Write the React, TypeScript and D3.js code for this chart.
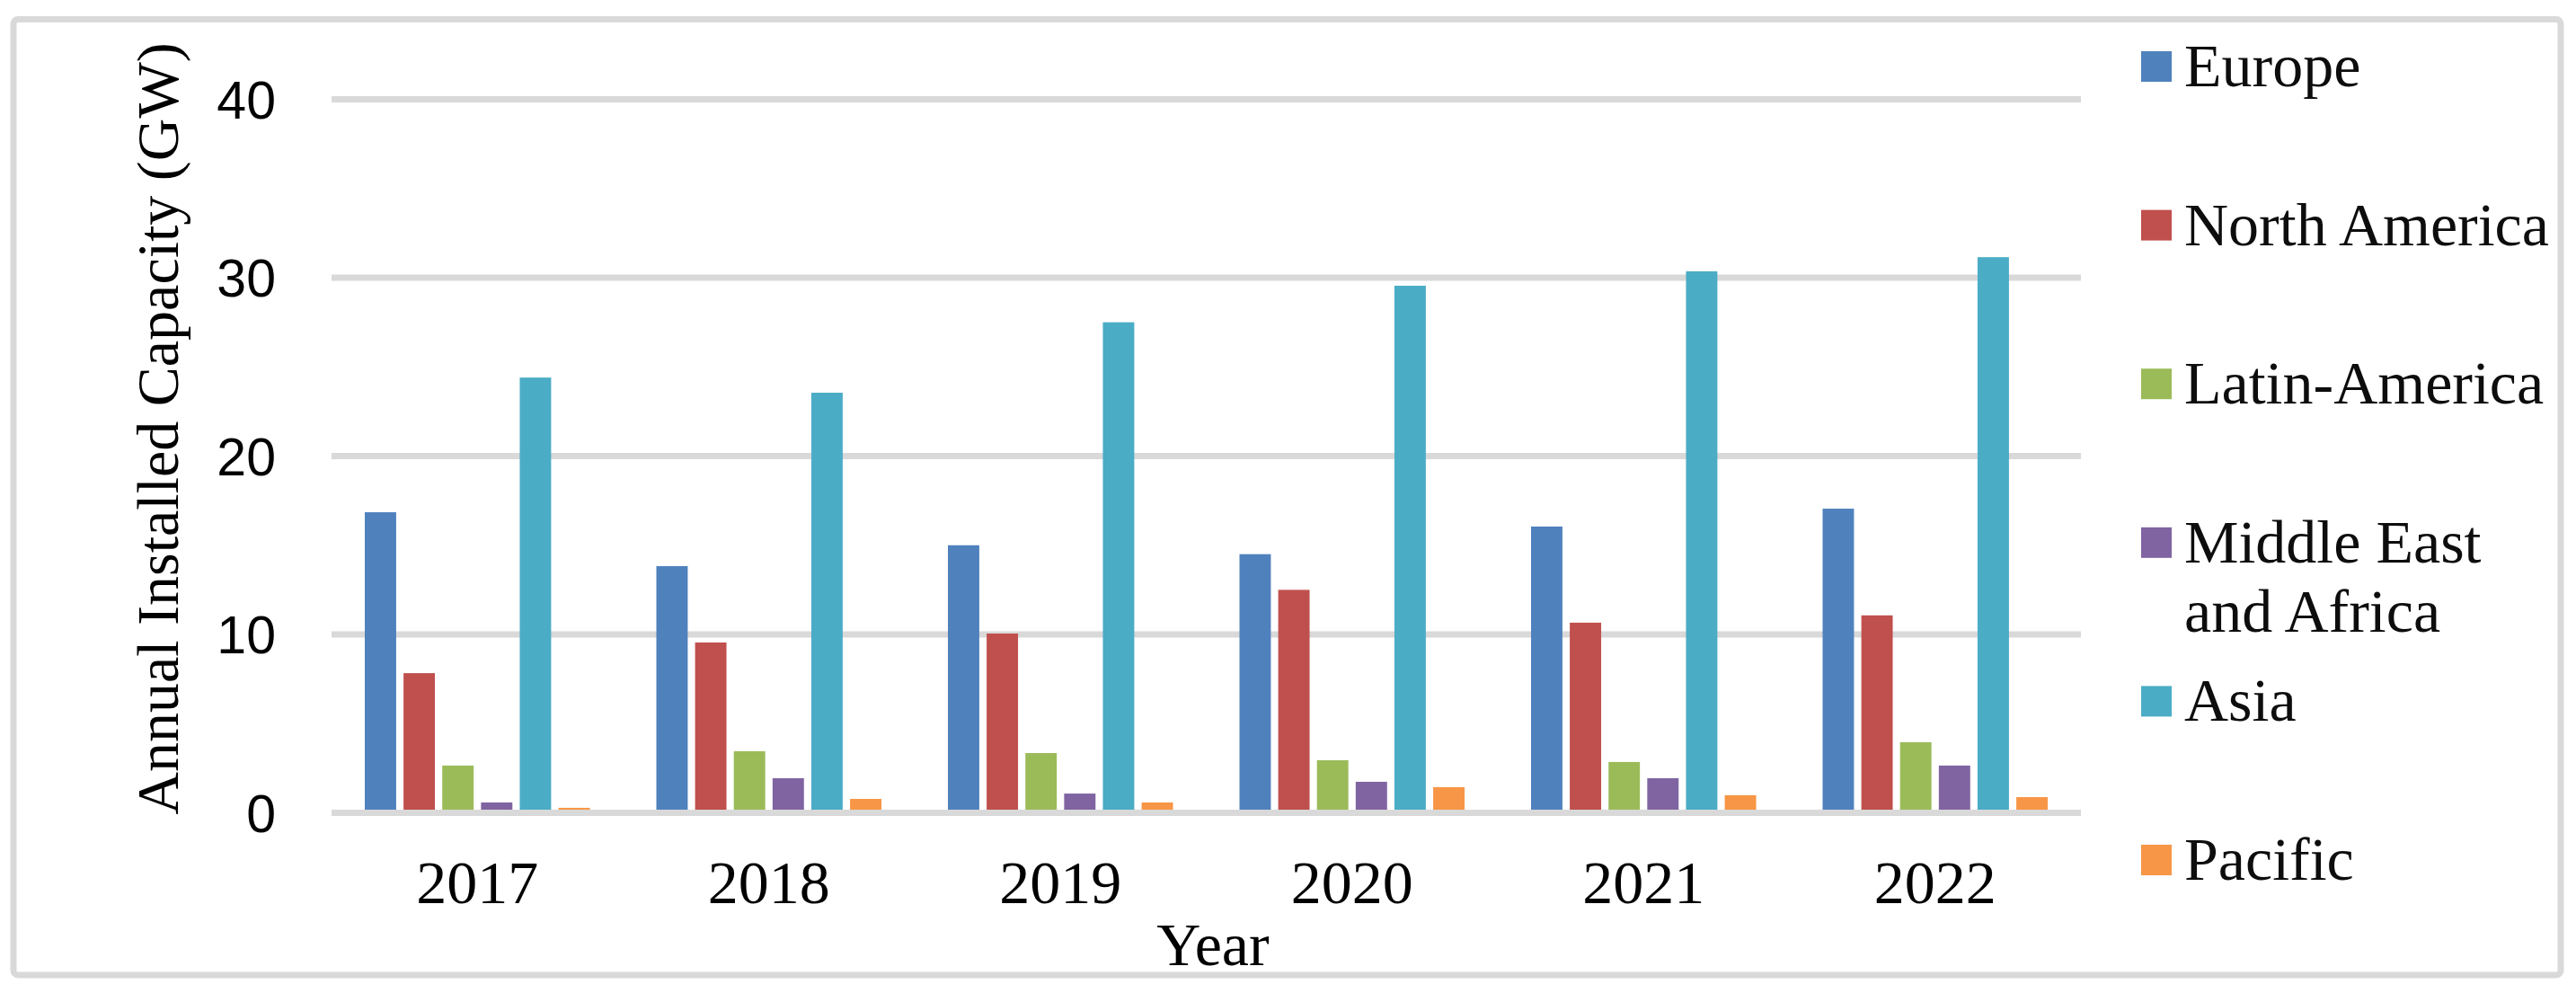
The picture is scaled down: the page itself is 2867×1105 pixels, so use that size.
import React from "react";
import * as d3 from "d3";

const years = ["2017", "2018", "2019", "2020", "2021", "2022"];
const seriesNames = ["Europe", "North America", "Latin-America", "Middle East and Africa", "Asia", "Pacific"];
const europe = [16.85, 13.83, 15.0, 14.5, 16.05, 17.05];
const northAmerica = [7.83, 9.55, 10.05, 12.5, 10.66, 11.07];
const latinAmerica = [2.65, 3.45, 3.35, 2.95, 2.85, 3.96];
const middleEastAfrica = [0.58, 1.94, 1.08, 1.74, 1.94, 2.65];
const asia = [24.4, 23.55, 27.5, 29.55, 30.36, 31.15];
const pacific = [0.28, 0.78, 0.58, 1.44, 0.99, 0.88];
const yTicks = [0, 10, 20, 30, 40];
const colors = ["#4F81BD", "#C0504D", "#9BBB59", "#8064A2", "#4BACC6", "#F79646"];
const legendLines = [["Europe"], ["North America"], ["Latin-America"], ["Middle East", "and Africa"], ["Asia"], ["Pacific"]];

const seriesValues = [europe, northAmerica, latinAmerica, middleEastAfrica, asia, pacific];

export default function App() {
  const W = 2867;
  const H = 1105;
  const plotLeft = 369;
  const plotRight = 2316;
  const y0 = 904.5;
  const y40 = 110.5;

  const x = d3.scaleBand<string>().domain(years).range([plotLeft, plotRight]).paddingInner(0).paddingOuter(0);
  const bw = x.bandwidth();
  const x1 = d3
    .scaleBand<string>()
    .domain(seriesNames)
    .range([bw * 0.114, bw * 0.886])
    .paddingInner(0.19)
    .paddingOuter(0);
  const y = d3.scaleLinear().domain([0, 40]).range([y0, y40]);

  const serif = "'Liberation Serif', 'Times New Roman', serif";
  const sans = "'Liberation Sans', Arial, sans-serif";

  const legendX = 2383;
  const legendY0 = 74;
  const legendStep = 176.6;
  const sw = 34;

  return (
    <svg
      width={W}
      height={H}
      viewBox={`0 0 ${W} ${H}`}
      style={{ position: "absolute", left: 0, top: 0, background: "#fff" }}
    >
      <rect x={0} y={0} width={W} height={H} fill="#fff" />
      <rect x={15} y={21.5} width={2835} height={1063.5} rx={5} fill="#fff" stroke="#D9D9D9" strokeWidth={7} />

      {yTicks
        .filter((t) => t !== 0)
        .map((t) => (
          <line key={"g" + t} x1={plotLeft} x2={plotRight} y1={y(t)} y2={y(t)} stroke="#D9D9D9" strokeWidth={7} />
        ))}

      {years.map((yr, gi) => (
        <g key={yr} transform={`translate(${x(yr)},0)`}>
          {seriesNames.map((s, si) => {
            const v = seriesValues[si][gi];
            return (
              <rect
                key={s}
                x={x1(s)}
                y={y(v)}
                width={x1.bandwidth()}
                height={y(0) - y(v)}
                fill={colors[si]}
              />
            );
          })}
        </g>
      ))}

      <line x1={plotLeft} x2={plotRight} y1={y(0)} y2={y(0)} stroke="#D9D9D9" strokeWidth={7} />

      {yTicks.map((t) => (
        <text
          key={"t" + t}
          x={307}
          y={y(t)}
          dy="0.36em"
          textAnchor="end"
          fontFamily={sans}
          fontSize={59}
          fill="#000"
        >
          {t}
        </text>
      ))}

      {years.map((yr) => (
        <text
          key={"x" + yr}
          x={(x(yr) as number) + bw / 2}
          y={1005}
          textAnchor="middle"
          fontFamily={serif}
          fontSize={68}
          fill="#000"
        >
          {yr}
        </text>
      ))}

      <text x={1350} y={1074} textAnchor="middle" fontFamily={serif} fontSize={68} fill="#000">
        Year
      </text>

      <text
        transform={`translate(198,477) rotate(-90)`}
        textAnchor="middle"
        fontFamily={serif}
        fontSize={66}
        fill="#000"
      >
        Annual Installed Capacity (GW)
      </text>

      {seriesNames.map((s, i) => {
        const cy = legendY0 + i * legendStep;
        return (
          <g key={"l" + s}>
            <rect x={legendX} y={cy - sw / 2} width={sw} height={sw} fill={colors[i]} />
            {legendLines[i].map((line, li) => (
              <text
                key={li}
                x={2431}
                y={cy + 22 + li * 77}
                fontFamily={serif}
                fontSize={68}
                fill="#0D0D0D"
              >
                {line}
              </text>
            ))}
          </g>
        );
      })}
    </svg>
  );
}
